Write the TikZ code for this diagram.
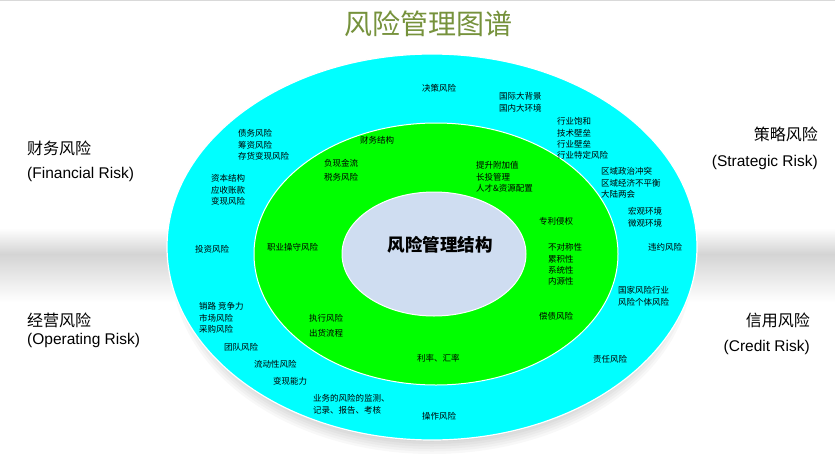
\documentclass[tikz,border=0pt]{standalone}
\usepackage{fontspec}
\setmainfont{Liberation Sans}
\newfontfamily\cjk{Noto Sans CJK SC}
\usetikzlibrary{positioning}
\definecolor{ringout}{HTML}{00FFFF}
\definecolor{ringmid}{HTML}{00FF00}
\definecolor{core}{HTML}{CFDDF1}
\definecolor{titlecol}{HTML}{76923C}
\definecolor{bandgray}{HTML}{D4D4D4}
\begin{document}
\begin{tikzpicture}[x=1pt,y=-1pt,
  small/.style={font=\cjk\fontsize{8.5}{11.3}\selectfont, inner sep=0pt, anchor=north west, align=left, text=black},
  side/.style={font=\cjk\fontsize{16}{18}\selectfont, inner sep=0pt, text=black},
  sideen/.style={font=\fontsize{15.5}{18}\selectfont, inner sep=0pt, text=black}]
\useasboundingbox (0,0) rectangle (835,453);
\fill[white] (0,0) rectangle (835,453);
\draw[gray!30, line width=1pt] (0,0.5) -- (835,0.5);
% gray band
\shade[top color=white, bottom color=bandgray] (0,228) rectangle (835,254);
\shade[top color=bandgray, bottom color=white] (0,254) rectangle (835,302);
% soft shadow under outer ellipse
\foreach \i in {0,...,7}{
  \fill[black, opacity=0.028] (432,268) ellipse ({260-\i*2.5} and {186-\i*2.5});
}
% rings
\fill[ringout, draw=white, line width=1.2pt] (432,247) ellipse (265 and 193);
\fill[ringmid, draw=white, line width=1pt] (436,254) ellipse (182 and 131);
\fill[core, draw=white, line width=1pt] (434,254) ellipse (92 and 62);
% title and centre
\node[font=\cjk\fontsize{28}{30}\selectfont, text=titlecol, inner sep=0pt] (title) at (428,24) {风险管理图谱};
\node[font=\cjk\bfseries\fontsize{17.5}{20}\selectfont, inner sep=0pt] (centre) at (440,245) {风险管理结构};
% side labels
\node[side, anchor=west] (fin) at (27,148) {财务风险};
\node[sideen, anchor=west] (finen) at (27,174) {(Financial Risk)};
\node[side, anchor=west] (ope) at (27,320) {经营风险};
\node[sideen, anchor=west] (opeen) at (27,340) {(Operating Risk)};
\node[side, anchor=east] (str) at (818,134) {策略风险};
\node[sideen, anchor=east] (stren) at (818,162) {(Strategic Risk)};
\node[side, anchor=east] (cre) at (810,320) {信用风险};
\node[sideen, anchor=east] (creen) at (810,347) {(Credit Risk)};
% outer ring texts
\node[small] (o1) at (238,129.5) {债务风险\\筹资风险\\存货变现风险};
\node[small] (o2) at (211,174.5) {资本结构\\应收账款\\变现风险};
\node[small] (o3) at (422,84.5) {决策风险};
\node[small] (o4) at (499,92.5) {国际大背景\\国内大环境};
\node[small] (o5) at (557,117.5) {行业饱和\\技术壁垒\\行业壁垒\\行业特定风险};
\node[small] (o6) at (601,167.5) {区域政治冲突\\区域经济不平衡\\大陆两会};
\node[small] (o7) at (628,207.5) {宏观环境\\微观环境};
\node[small] (o8) at (648,243.5) {违约风险};
\node[small] (o9) at (618,286.5) {国家风险行业\\风险个体风险};
\node[small] (o10) at (593,355.5) {责任风险};
\node[small] (o11) at (422,412.5) {操作风险};
\node[small] (o12) at (195,245.5) {投资风险};
\node[small] (o13) at (199,302.5) {销路 竞争力\\市场风险\\采购风险};
\node[small] (o14) at (224,343.5) {团队风险};
\node[small] (o15) at (254,360.5) {流动性风险};
\node[small] (o16) at (273,377.5) {变现能力};
\node[small] (o17) at (313,394.5) {业务的风险的监测、\\记录、报告、考核};
% middle ring texts
\node[small] (m1) at (360,136.5) {财务结构};
\node[small] (m2) at (324,159.5) {负现金流};
\node[small] (m3) at (324,173.5) {税务风险};
\node[small] (m4) at (476,161.5) {提升附加值\\长投管理\\人才\&资源配置};
\node[small] (m5) at (539,217.5) {专利侵权};
\node[small] (m6) at (548,243.5) {不对称性\\累积性\\系统性\\内源性};
\node[small] (m7) at (539,312.5) {偿债风险};
\node[small] (m8) at (417,354.5) {利率、汇率};
\node[small] (m9) at (309,314.5) {执行风险};
\node[small] (m10) at (309,329.5) {出货流程};
\node[small] (m11) at (267,243.5) {职业操守风险};
\end{tikzpicture}
\end{document}
